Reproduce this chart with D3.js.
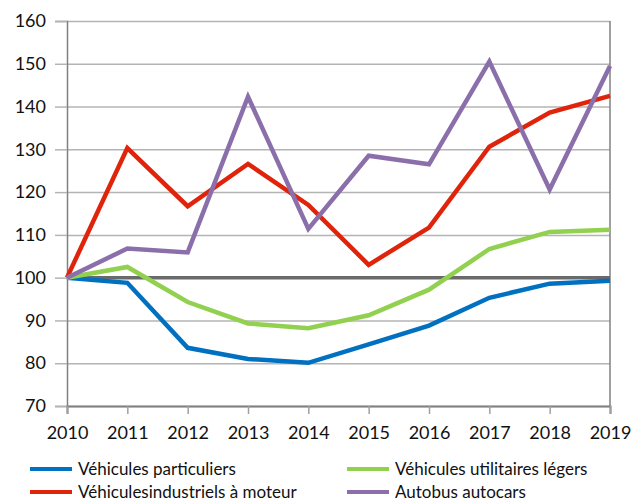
<!DOCTYPE html>
<html>
<head>
<meta charset="utf-8">
<script src="https://cdn.jsdelivr.net/npm/d3@7"></script>
<style>
  body { margin: 0; background: #fff; }
  svg text { font-family: Lato, "Open Sans", sans-serif; fill: #111; }
  .grid line { stroke: #b4b4b4; stroke-width: 1.5; }
  .grid path { display: none; }
</style>
</head>
<body>
<svg id="chart" width="633" height="504"></svg>
<script>
// years and index values (2010 = 100)
var years = [2010, 2011, 2012, 2013, 2014, 2015, 2016, 2017, 2018, 2019];
var particuliers = [100, 98.8, 83.6, 81.0, 80.1, 84.4, 88.8, 95.3, 98.6, 99.3];
var utilitaires = [100, 102.5, 94.3, 89.3, 88.2, 91.2, 97.2, 106.7, 110.7, 111.2];
var industriels = [100, 130.3, 116.7, 126.6, 117.0, 103.0, 111.7, 130.6, 138.6, 142.5];
var autobus = [100, 106.8, 105.9, 142.3, 111.4, 128.5, 126.5, 150.5, 120.6, 149.5];
var yTicks = [70, 80, 90, 100, 110, 120, 130, 140, 150, 160];

var series = [
	{name: "Véhicules particuliers", values: particuliers, color: "#0070c0"},
	{name: "Véhicules utilitaires légers", values: utilitaires, color: "#92d050"},
	{name: "Véhiculesindustriels à moteur", values: industriels, color: "#e0240c"},
	{name: "Autobus autocars", values: autobus, color: "#8b6faa"}
];

var svg = d3.select("#chart");
var margin = {top: 21, left: 67, right: 23, bottom: 98};
var w = 633 - margin.left - margin.right;
var h = 504 - margin.top - margin.bottom;
var g = svg.append("g").attr("transform", "translate(" + margin.left + "," + margin.top + ")");

var x = d3.scaleLinear().domain([2010, 2019]).range([0, w]);
var y = d3.scaleLinear().domain([70, 160]).range([h, 0]);

// horizontal gridlines
g.append("g")
	.attr("class", "grid")
	.call(d3.axisLeft(y).tickValues(yTicks).tickSize(-w).tickFormat(""));

// right border
g.append("line")
	.attr("x1", w).attr("x2", w).attr("y1", 0).attr("y2", h)
	.attr("stroke", "#808080").attr("stroke-width", 1.5);

// base line at 100
g.append("line")
	.attr("x1", 0).attr("x2", w).attr("y1", y(100)).attr("y2", y(100))
	.attr("stroke", "#6a6a6a").attr("stroke-width", 3.5);

// y axis
var yAxis = g.append("g")
	.call(d3.axisLeft(y).tickValues(yTicks).tickSize(12).tickPadding(9).tickFormat(d3.format("d")));
yAxis.select(".domain").attr("stroke", "#808080").attr("stroke-width", 1.5);
yAxis.selectAll(".tick line").attr("stroke", "#b4b4b4").attr("stroke-width", 1.5);
yAxis.selectAll("text").style("font-size", "18px").attr("fill", "#111");

// x axis
var xAxis = g.append("g")
	.attr("transform", "translate(0," + h + ")")
	.call(d3.axisBottom(x).tickValues(years).tickSize(8).tickPadding(12).tickFormat(d3.format("d")));
xAxis.select(".domain").attr("stroke", "#808080").attr("stroke-width", 2);
xAxis.selectAll(".tick line").attr("stroke", "#a0a0a0").attr("stroke-width", 1.5);
xAxis.selectAll("text").style("font-size", "18px").attr("fill", "#111");

// lines
var line = d3.line()
	.x(function(d, i) { return x(years[i]); })
	.y(function(d) { return y(d); });

series.forEach(function(s) {
	g.append("path")
		.datum(s.values)
		.attr("fill", "none")
		.attr("stroke", s.color)
		.attr("stroke-width", 4.5)
		.attr("stroke-linejoin", "miter")
		.attr("d", line);
});

// legend
var legendPos = [[30, 469], [347, 469], [30, 492], [347, 492]];
series.forEach(function(s, i) {
	var lg = svg.append("g").attr("transform", "translate(" + legendPos[i][0] + "," + legendPos[i][1] + ")");
	lg.append("line").attr("x1", 0).attr("x2", 42).attr("y1", 0).attr("y2", 0)
		.attr("stroke", s.color).attr("stroke-width", 4);
	lg.append("text").attr("x", 48).attr("dy", "0.35em")
		.style("font-size", "17px").text(s.name);
});
</script>
</body>
</html>
